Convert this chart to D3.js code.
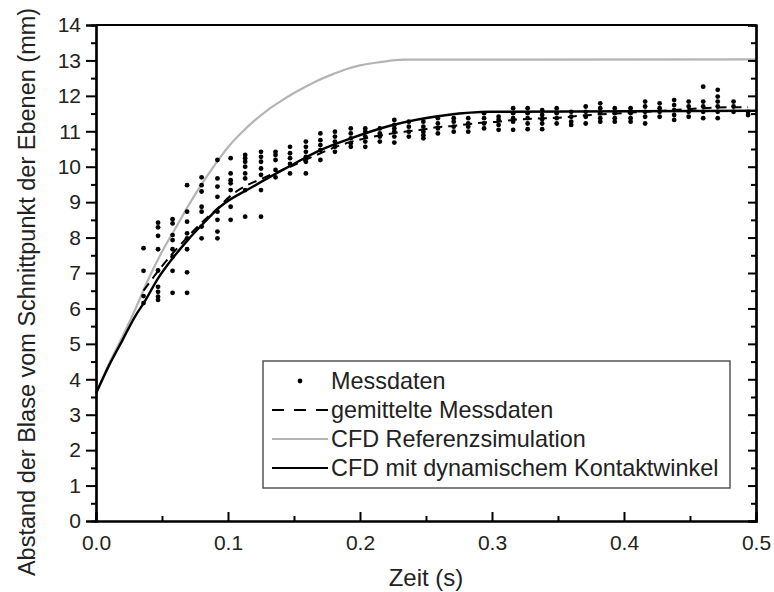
<!DOCTYPE html>
<html><head><meta charset="utf-8">
<script src="https://cdn.jsdelivr.net/npm/d3@7"></script>
<style>body{margin:0;background:#fff}svg{display:block}text{font-family:"Liberation Sans",Arial,sans-serif}</style>
</head><body><svg id="c" width="774" height="592"></svg>
<script>
// ---- data ----
const xTicks = [0.0, 0.1, 0.2, 0.3, 0.4, 0.5];
const yTicks = [0,1,2,3,4,5,6,7,8,9,10,11,12,13,14];
const messZeit = [0.036,0.047,0.058,0.069,0.080,0.092,0.102,0.113,0.125,0.136,0.147,0.159,0.170,0.181,0.193,0.204,0.215,0.226,0.237,0.248,0.259,0.271,0.282,0.294,0.305,0.316,0.327,0.338,0.349,0.360,0.371,0.382,0.393,0.405,0.416,0.427,0.438,0.449,0.460,0.471,0.483,0.494];
const messWerte = [
 [7.70,7.06,6.35,6.15],
 [8.42,8.29,8.05,7.67,7.07,6.61,6.47,6.33,6.24],
 [8.52,8.40,8.07,7.93,7.67,7.46,7.06,6.44],
 [9.48,8.73,8.45,8.12,7.98,7.67,7.02,6.44],
 [9.70,9.48,9.30,8.87,8.73,8.31,7.98],
 [10.19,9.67,9.44,9.15,8.73,8.50,8.17,7.98],
 [10.24,9.81,9.62,9.53,9.34,8.87,8.50],
 [10.33,10.24,10.14,10.00,9.81,9.67,9.34,8.59],
 [10.42,10.28,10.14,9.95,9.77,9.34,8.59],
 [10.42,10.33,10.19,9.91,9.70],
 [10.56,10.38,10.24,10.08,9.81],
 [10.71,10.56,10.42,10.28,10.14,9.81],
 [10.94,10.75,10.61,10.47,10.19],
 [10.99,10.85,10.71,10.56,10.42],
 [11.08,10.94,10.80,10.66,10.56],
 [11.08,10.99,10.85,10.71,10.56],
 [11.08,10.94,10.85,10.71],
 [11.32,11.18,11.08,10.99,10.85,10.68],
 [11.27,11.13,10.99,10.85],
 [11.27,11.13,10.99,10.89,10.80],
 [11.37,11.22,11.08,10.94],
 [11.37,11.27,11.13,10.99],
 [11.37,11.22,11.13,10.99],
 [11.51,11.37,11.22,11.08],
 [11.41,11.32,11.18,11.04],
 [11.65,11.51,11.37,11.27,11.04],
 [11.65,11.51,11.37,11.22,11.06],
 [11.60,11.46,11.34,11.22,11.06],
 [11.65,11.51,11.37,11.22],
 [11.55,11.41,11.27,11.18],
 [11.70,11.55,11.41,11.22],
 [11.79,11.65,11.51,11.37,11.27],
 [11.65,11.51,11.37,11.27],
 [11.65,11.51,11.37,11.27],
 [11.84,11.70,11.55,11.41,11.22],
 [11.79,11.65,11.55,11.41],
 [11.88,11.74,11.60,11.46,11.32],
 [11.84,11.70,11.55,11.41],
 [12.26,11.84,11.70,11.55,11.37],
 [12.17,11.98,11.84,11.70,11.55,11.37],
 [11.84,11.70,11.55],
 [11.55,11.46]
];
const mittelZeit = [0.036,0.047,0.058,0.069,0.080,0.092,0.102,0.113,0.125,0.136,0.147,0.159,0.170,0.181,0.193,0.204,0.215,0.226,0.237,0.248,0.259,0.271,0.282,0.294,0.305,0.316,0.327,0.349,0.371,0.393,0.416,0.438,0.460,0.483,0.494];
const mittelWerte = [6.50,7.05,7.55,8.00,8.42,8.82,9.18,9.45,9.65,9.83,10.00,10.20,10.38,10.55,10.70,10.80,10.88,10.95,11.00,11.05,11.12,11.15,11.20,11.25,11.27,11.32,11.35,11.38,11.45,11.50,11.55,11.60,11.65,11.68,11.68];
const refZeit = [0,0.01,0.02,0.03,0.04,0.05,0.06,0.07,0.08,0.09,0.10,0.11,0.12,0.13,0.14,0.15,0.165,0.18,0.19,0.20,0.215,0.233,0.5];
const refWerte = [3.6,4.45,5.2,6.0,6.85,7.6,8.25,8.9,9.5,10.05,10.55,10.95,11.3,11.6,11.85,12.08,12.38,12.62,12.76,12.86,12.95,13.02,13.03];
const dynZeit = [0,0.01,0.02,0.03,0.036,0.047,0.059,0.070,0.079,0.094,0.119,0.145,0.170,0.193,0.222,0.266,0.299,0.5];
const dynWerte = [3.6,4.4,5.1,5.8,6.14,6.85,7.46,7.95,8.31,8.87,9.44,9.98,10.47,10.80,11.15,11.46,11.55,11.58];
const legendLabels = ["Messdaten","gemittelte Messdaten","CFD Referenzsimulation","CFD mit dynamischem Kontaktwinkel"];
const xTitle = "Zeit (s)";
const yTitle = "Abstand der Blase vom Schnittpunkt der Ebenen (mm)";

// ---- chart ----
const svg = d3.select("#c");
const L=96, R=756, T=25, B=521;
const x = d3.scaleLinear().domain([0,0.5]).range([L,R]);
const y = d3.scaleLinear().domain([0,14]).range([B,T]);
const gray="#b4b4b4";

const ref = refZeit.map((t,i)=>[t,refWerte[i]]);
const dyn = dynZeit.map((t,i)=>[t,dynWerte[i]]);
const mit = mittelZeit.map((t,i)=>[t,mittelWerte[i]]);
const curve = d3.line().x(d=>x(d[0])).y(d=>y(d[1])).curve(d3.curveMonotoneX);
svg.append("path").attr("d",curve(ref)).attr("fill","none").attr("stroke",gray).attr("stroke-width",2.2);

// points
const pts=[];
messZeit.forEach((t,i)=>messWerte[i].forEach(v=>pts.push([t,v])));
svg.append("g").selectAll("circle").data(pts).join("circle")
  .attr("cx",d=>x(d[0])).attr("cy",d=>y(d[1])).attr("r",2.4).attr("fill","#000");

svg.append("path").attr("d",curve(mit)).attr("fill","none").attr("stroke","#000").attr("stroke-width",2).attr("stroke-dasharray","9,6");
svg.append("path").attr("d",curve(dyn)).attr("fill","none").attr("stroke","#000").attr("stroke-width",2.4);

// axes
const fs=21;
const yMinor = d3.range(0.5,14,1);
const xMinor = d3.range(0.05,0.5,0.1);
const gl = svg.append("g").attr("transform",`translate(${L},0)`)
  .call(d3.axisLeft(y).tickValues(yTicks).tickSize(10).tickPadding(5).tickFormat(d3.format("d")));
gl.append("g").call(d3.axisLeft(y).tickValues(yMinor).tickSize(5).tickFormat(""));
const gb = svg.append("g").attr("transform",`translate(0,${B})`)
  .call(d3.axisBottom(x).tickValues(xTicks).tickSize(-9).tickPadding(14).tickFormat(d3.format(".1f")));
gb.append("g").call(d3.axisBottom(x).tickValues(xMinor).tickSize(-5).tickFormat(""));
const gr = svg.append("g").attr("transform",`translate(${R},0)`)
  .call(d3.axisRight(y).tickValues(yTicks).tickSize(-8).tickFormat(""));
gr.append("g").call(d3.axisRight(y).tickValues(yMinor).tickSize(-5).tickFormat(""));
svg.append("line").attr("x1",L).attr("x2",R).attr("y1",T).attr("y2",T).attr("stroke","#000").attr("stroke-width",2.2);
svg.selectAll(".domain").attr("stroke","#000").attr("stroke-width",2.2);
svg.selectAll(".tick line").attr("stroke","#000").attr("stroke-width",2);
svg.selectAll(".tick text").attr("font-size",fs).attr("fill","#222").attr("font-family","Liberation Sans, Arial, sans-serif");

// titles
svg.append("text").attr("x",(L+R)/2).attr("y",586).attr("text-anchor","middle").attr("font-size",24).attr("fill","#222").text(xTitle);
svg.append("text").attr("transform",`translate(35,${(T+B)/2+19}) rotate(-90)`).attr("text-anchor","middle").attr("font-size",23.5).attr("fill","#222").text(yTitle);

// legend
const lg = svg.append("g");
lg.append("rect").attr("x",263).attr("y",361).attr("width",467).attr("height",127).attr("fill","#fff").attr("stroke","#555").attr("stroke-width",1.5);
const rowY = [381,410,439,468];
lg.append("circle").attr("cx",300).attr("cy",rowY[0]).attr("r",2.4).attr("fill","#000");
lg.append("line").attr("x1",272).attr("x2",328).attr("y1",rowY[1]).attr("y2",rowY[1]).attr("stroke","#000").attr("stroke-width",2).attr("stroke-dasharray","12,10");
lg.append("line").attr("x1",272).attr("x2",328).attr("y1",rowY[2]).attr("y2",rowY[2]).attr("stroke",gray).attr("stroke-width",2);
lg.append("line").attr("x1",272).attr("x2",328).attr("y1",rowY[3]).attr("y2",rowY[3]).attr("stroke","#000").attr("stroke-width",2.2);
legendLabels.forEach((s,i)=>lg.append("text").attr("x",331).attr("y",rowY[i]+8).attr("font-size",23.4).attr("fill","#222").text(s));
</script></body></html>
